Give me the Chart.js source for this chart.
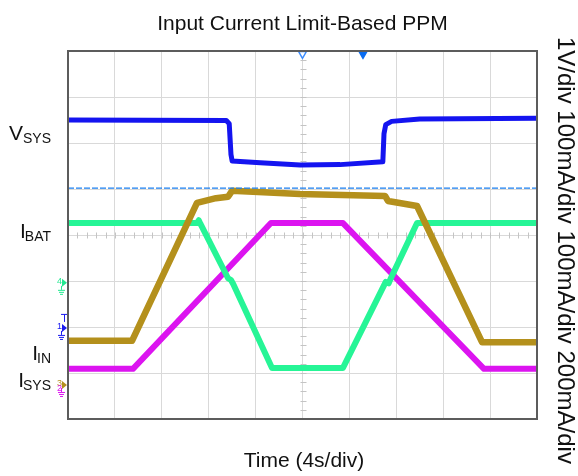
<!DOCTYPE html>
<html><head><meta charset="utf-8">
<script src="https://cdn.jsdelivr.net/npm/chart.js@4.4.1/dist/chart.umd.min.js"></script>
<style>html,body{margin:0;padding:0;background:#fff;}#wrap{width:578px;height:476px;position:relative;}</style>
</head><body><div id="wrap"><canvas id="c" width="578" height="476"></canvas></div>
<script>
// Time in seconds (4 s/div, 10 divisions), vertical position in screen divisions (0 = bottom, 8 = top)
const vsysT = [0, 13.5, 13.75, 13.9, 14.0, 16.4, 19.8, 23.2, 26.85, 26.95, 27.1, 27.6, 30.0, 40];
const vsysY = [6.50, 6.49, 6.42, 5.75, 5.61, 5.57, 5.52, 5.53, 5.59, 6.20, 6.40, 6.47, 6.52, 6.54];

const iinT = [0, 5.46, 11.0, 12.62, 13.65, 13.99, 19.79, 27.04, 27.29, 29.77, 35.31, 40];
const iinY = [1.70, 1.70, 4.70, 4.80, 4.83, 4.96, 4.89, 4.85, 4.74, 4.63, 1.67, 1.67];

const ibatT = [0, 11.0, 11.15, 11.3, 13.65, 13.9, 14.1, 17.4, 23.45, 27.1, 27.35, 27.5, 29.77, 40];
const ibatY = [4.26, 4.26, 4.32, 4.24, 3.06, 3.02, 2.93, 1.11, 1.11, 2.98, 2.95, 3.04, 4.26, 4.26];

const isysT = [0, 5.54, 17.31, 23.45, 35.48, 40];
const isysY = [1.09, 1.09, 4.26, 4.26, 1.09, 1.09];

const trigLevel = 5.02;
const markerT = [20, 25.16];
const markerY = [7.94, 7.94];

const chanMarkers = [ // channel, level (div), colors
  {label:'4', level:2.96, color:'#22e890'},
  {label:'1', level:1.98, color:'#1a1af0'},
  {label:'3', level:0.74, color:'#b4901c'}
];

const titleText = 'Input Current Limit-Based PPM';
const xTitleText = 'Time (4s/div)';
const rightText = '1V/div 100mA/div 100mA/div 200mA/div';
const leftLabels = [
  {main:'V', sub:'SYS', level:'vsys'},
  {main:'I', sub:'BAT', level:'ibat'},
  {main:'I', sub:'IN', level:'iin'},
  {main:'I', sub:'SYS', level:'isys'}
];

const pts = (t, v) => t.map((x, i) => ({x, y: v[i]}));
const FONT = '"Liberation Sans", Arial, Helvetica, sans-serif';

const decor = {
  id: 'decor',
  beforeDatasetsDraw(chart) {
    const {ctx, scales: {x, y}} = chart;
    ctx.save();
    ctx.strokeStyle = '#c4c4c4';
    ctx.lineWidth = 1;
    const cx = Math.round(x.getPixelForValue(20)) + 0.5;
    const cy = Math.round(y.getPixelForValue(4)) + 0.5;
    for (let k = 0; k <= 40; k++) {
      const py = Math.round(y.getPixelForValue(k * 0.2)) + 0.5;
      ctx.beginPath(); ctx.moveTo(cx - 3, py); ctx.lineTo(cx + 3, py); ctx.stroke();
    }
    for (let k = 0; k <= 50; k++) {
      const px = Math.round(x.getPixelForValue(k * 0.8)) + 0.5;
      ctx.beginPath(); ctx.moveTo(px, cy - 3); ctx.lineTo(px, cy + 3); ctx.stroke();
    }
    ctx.restore();
  },
  afterDraw(chart) {
    const {ctx, chartArea: a, scales: {x, y}} = chart;
    ctx.save();
    // frame
    ctx.strokeStyle = '#5c5c5c';
    ctx.lineWidth = 2;
    ctx.strokeRect(a.left, a.top, a.right - a.left, a.bottom - a.top);

    ctx.fillStyle = '#111';
    // title
    ctx.font = '21px ' + FONT;
    ctx.textAlign = 'center';
    ctx.textBaseline = 'alphabetic';
    ctx.fillText(titleText, 302.5, 29.5);
    // x title
    ctx.font = '21px ' + FONT;
    ctx.fillText(xTitleText, 304, 467);
    // right rotated text
    ctx.save();
    ctx.translate(565, 37);
    ctx.rotate(Math.PI / 2);
    ctx.font = '24px ' + FONT;
    ctx.textAlign = 'left';
    ctx.textBaseline = 'middle';
    ctx.fillText(rightText, 0, 0);
    ctx.restore();

    // left labels with subscripts
    const base = {vsys: 140, ibat: 238, iin: 360, isys: 386.5};
    leftLabels.forEach(l => {
      const b = base[l.level];
      ctx.font = '14px ' + FONT;
      const ws = ctx.measureText(l.sub).width;
      ctx.font = '21px ' + FONT;
      const wm = ctx.measureText(l.main).width;
      ctx.textAlign = 'left';
      ctx.textBaseline = 'alphabetic';
      const xr = 51;
      ctx.fillText(l.main, xr - ws - wm + (l.main === 'I' ? 1 : 0), b);
      ctx.font = '14px ' + FONT;
      ctx.fillText(l.sub, xr - ws, b + 3);
    });

    // channel markers on left edge
    chanMarkers.forEach(m => {
      const py = y.getPixelForValue(m.level);
      ctx.fillStyle = m.color;
      ctx.strokeStyle = m.color;
      ctx.lineWidth = 1;
      ctx.beginPath();
      ctx.moveTo(62, py - 4); ctx.lineTo(67, py); ctx.lineTo(62, py + 4); ctx.closePath(); ctx.fill();
      ctx.font = '9px ' + FONT;
      ctx.textAlign = 'right';
      ctx.textBaseline = 'middle';
      ctx.fillText(m.label, 62, py - 1);
      const gc = m.label === '3' ? '#dc14f0' : m.color;
      ctx.strokeStyle = gc;
      ctx.beginPath();
      ctx.moveTo(61.5, py + 3); ctx.lineTo(61.5, py + 7);
      ctx.moveTo(58, py + 7.5); ctx.lineTo(65, py + 7.5);
      ctx.moveTo(59, py + 9.5); ctx.lineTo(64, py + 9.5);
      ctx.moveTo(60, py + 11.5); ctx.lineTo(63, py + 11.5);
      ctx.stroke();
      if (m.label === '1') {
        ctx.beginPath();
        ctx.moveTo(61, py - 13.5); ctx.lineTo(67, py - 13.5);
        ctx.moveTo(64.5, py - 13.5); ctx.lineTo(64.5, py - 6);
        ctx.stroke();
      }
      if (m.label === '3') {
        ctx.fillStyle = '#dc14f0';
        ctx.fillText('2', 62, py + 4);
      }
    });
    ctx.restore();
  }
};

new Chart(document.getElementById('c'), {
  type: 'line',
  data: {
    datasets: [
      {label: 'VSYS', data: pts(vsysT, vsysY), borderColor: '#1414f0', borderWidth: 5},
      {label: 'Trigger', data: pts([0, 40], [trigLevel, trigLevel]), borderColor: '#1a7ff0', borderWidth: 1.2, borderDash: [6, 2]},
      {label: 'IIN', data: pts(iinT, iinY), borderColor: '#b4901c', borderWidth: 6.5},
      {label: 'IBAT', data: pts(ibatT, ibatY), borderColor: '#26f596', borderWidth: 6},
      {label: 'ISYS', data: pts(isysT, isysY), borderColor: '#dc14f0', borderWidth: 6},
      {label: 'Markers', data: pts(markerT, markerY), showLine: false, clip: false,
        pointStyle: 'triangle', rotation: 180, pointRadius: 4.5,
        pointBackgroundColor: ['#ffffff', '#0a6cf0'], pointBorderColor: ['#3a8cff', '#0a6cf0'], pointBorderWidth: 1.5}
    ]
  },
  options: {
    responsive: false,
    animation: false,
    devicePixelRatio: 1,
    layout: {padding: {left: 68, top: 51, right: 41, bottom: 57}},
    elements: {line: {tension: 0, borderJoinStyle: 'round', borderCapStyle: 'butt', fill: false}, point: {radius: 0}},
    plugins: {legend: {display: false}, tooltip: {enabled: false}, title: {display: false}},
    scales: {
      x: {type: 'linear', min: 0, max: 40,
        ticks: {display: false, stepSize: 4},
        grid: {color: '#d9d9d9', lineWidth: 1, drawTicks: false},
        border: {display: false}},
      y: {type: 'linear', min: 0, max: 8,
        ticks: {display: false, stepSize: 1},
        grid: {color: '#d9d9d9', lineWidth: 1, drawTicks: false},
        border: {display: false}}
    }
  },
  plugins: [decor]
});
</script>
</body></html>
